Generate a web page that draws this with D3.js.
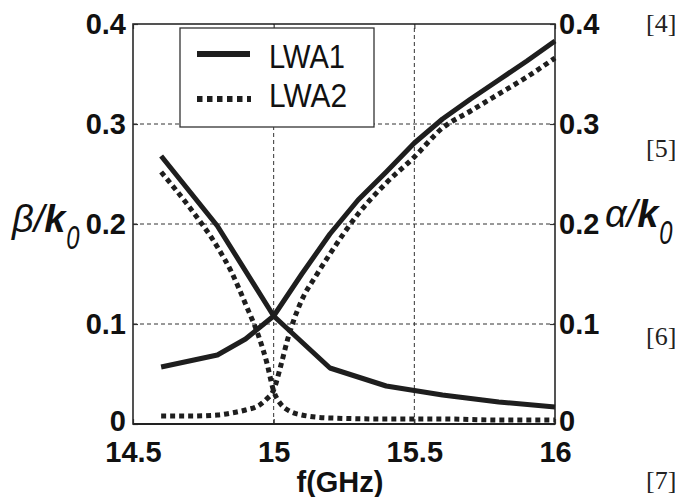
<!DOCTYPE html>
<html>
<head>
<meta charset="utf-8">
<script src="https://cdn.jsdelivr.net/npm/d3@7"></script>
<style>
  html, body { margin: 0; padding: 0; background: #fff; }
  svg { display: block; }
</style>
</head>
<body>
<svg id="chart" width="675" height="497"></svg>
<script>
// ---- data ----
const xTicks = [14.5, 15, 15.5, 16];
const xTickLabels = ["14.5", "15", "15.5", "16"];
const yTicks = [0, 0.1, 0.2, 0.3, 0.4];
const yTickLabels = ["0", "0.1", "0.2", "0.3", "0.4"];
const xGrid = [15, 15.5];
const yGrid = [0.1, 0.2, 0.3];

const seriesNames = ["LWA1", "LWA2"];

const freqBeta1 = [14.6, 14.8, 15.0, 15.2, 15.4, 15.6, 15.8, 16.0];
const beta1     = [0.268, 0.198, 0.108, 0.056, 0.038, 0.029, 0.022, 0.017];

const freqAlpha1 = [14.6, 14.8, 14.9, 15.0, 15.1, 15.2, 15.3, 15.4, 15.5, 15.6, 15.7, 15.8, 15.9, 16.0];
const alpha1     = [0.057, 0.069, 0.085, 0.108, 0.150, 0.190, 0.224, 0.252, 0.281, 0.305, 0.325, 0.344, 0.363, 0.383];

const freqBeta2 = [14.6, 14.7, 14.8, 14.85, 14.9, 14.95, 14.975, 15.0, 15.025, 15.05, 15.1, 15.2, 15.4, 15.6, 15.8, 16.0];
const beta2     = [0.252, 0.217, 0.177, 0.152, 0.120, 0.085, 0.062, 0.033, 0.020, 0.014, 0.009, 0.006, 0.005, 0.005, 0.004, 0.004];

const freqAlpha2 = [14.6, 14.7, 14.8, 14.85, 14.9, 14.95, 14.975, 15.0, 15.025, 15.05, 15.1, 15.15, 15.2, 15.3, 15.4, 15.5, 15.6, 15.7, 15.8, 15.9, 16.0];
const alpha2     = [0.008, 0.008, 0.009, 0.011, 0.014, 0.019, 0.025, 0.034, 0.058, 0.085, 0.124, 0.148, 0.170, 0.210, 0.241, 0.267, 0.296, 0.313, 0.330, 0.347, 0.366];

const refLabels = ["[4]", "[5]", "[6]", "[7]"];

// ---- layout ----
const svg = d3.select("#chart");
const L = 133, R = 555, T = 24, B = 424;
const x = d3.scaleLinear().domain([14.5, 16]).range([L, R]);
const y = d3.scaleLinear().domain([0, 0.4]).range([B, T]);
const ink = "#1e1e1e";
const sans = "'Liberation Sans', Arial, Helvetica, sans-serif";

// grid
svg.append("g").selectAll("line").data(yGrid).join("line")
  .attr("x1", L).attr("x2", R).attr("y1", d => y(d)).attr("y2", d => y(d))
  .attr("stroke", "#333").attr("stroke-width", 1).attr("stroke-dasharray", "4,3");
svg.append("g").selectAll("line").data(xGrid).join("line")
  .attr("y1", B).attr("y2", T).attr("x1", d => x(d)).attr("x2", d => x(d))
  .attr("stroke", "#333").attr("stroke-width", 1).attr("stroke-dasharray", "4,3");

// axes
function styleAxis(g) {
  g.select(".domain").remove();
  g.selectAll(".tick line").attr("stroke", "#333").attr("stroke-width", 1.2);
  g.selectAll(".tick text").attr("fill", "#111")
    .attr("font-family", sans).attr("font-weight", "bold").attr("font-size", 29);
}
const xAxis = d3.axisBottom(x).tickValues(xTicks)
  .tickFormat((d, i) => xTickLabels[i]).tickSizeInner(-5).tickSizeOuter(0).tickPadding(17);
svg.append("g").attr("transform", `translate(0,${B})`).call(xAxis).call(styleAxis);
const xAxisTop = d3.axisTop(x).tickValues(xTicks).tickFormat("").tickSizeInner(-5).tickSizeOuter(0);
svg.append("g").attr("transform", `translate(0,${T})`).call(xAxisTop).call(styleAxis);

const yAxisL = d3.axisLeft(y).tickValues(yTicks)
  .tickFormat((d, i) => yTickLabels[i]).tickSizeInner(-5).tickSizeOuter(0).tickPadding(7);
const gl = svg.append("g").attr("transform", `translate(${L},0)`).call(yAxisL).call(styleAxis);
const yAxisR = d3.axisRight(y).tickValues(yTicks)
  .tickFormat((d, i) => yTickLabels[i]).tickSizeInner(-5).tickSizeOuter(0).tickPadding(4);
const gr = svg.append("g").attr("transform", `translate(${R},0)`).call(yAxisR).call(styleAxis);
// the "0" labels sit a touch higher so they just touch the x labels
[gl, gr].forEach(g => g.selectAll(".tick text").filter(d => d === 0).attr("dy", "0.22em"));

// frame
svg.append("rect").attr("x", L).attr("y", T).attr("width", R - L).attr("height", B - T)
  .attr("fill", "none").attr("stroke", "#2a2a2a").attr("stroke-width", 1.6);
svg.append("line").attr("x1", L).attr("x2", R).attr("y1", B).attr("y2", B)
  .attr("stroke", "#222").attr("stroke-width", 2);

// curves
const solidLine = d3.line().x(d => x(d[0])).y(d => y(d[1])).curve(d3.curveLinear);
const dotLine = d3.line().x(d => x(d[0])).y(d => y(d[1])).curve(d3.curveMonotoneX);
const zip = (a, b) => a.map((v, i) => [v, b[i]]);

function drawDotted(pts) {
  svg.append("path").datum(pts).attr("d", dotLine)
    .attr("fill", "none").attr("stroke", ink).attr("stroke-width", 5)
    .attr("stroke-dasharray", "5,4");
}
function drawSolid(pts) {
  svg.append("path").datum(pts).attr("d", solidLine)
    .attr("fill", "none").attr("stroke", ink).attr("stroke-width", 5)
    .attr("stroke-linejoin", "round");
}
drawDotted(zip(freqBeta2, beta2));
drawDotted(zip(freqAlpha2, alpha2));
drawSolid(zip(freqBeta1, beta1));
drawSolid(zip(freqAlpha1, alpha1));

// legend
const lg = svg.append("g");
lg.append("rect").attr("x", 180).attr("y", 28).attr("width", 194).attr("height", 99)
  .attr("fill", "#fff").attr("stroke", "#333").attr("stroke-width", 1.3);
lg.append("line").attr("x1", 197).attr("x2", 250).attr("y1", 54).attr("y2", 54)
  .attr("stroke", ink).attr("stroke-width", 6);
lg.append("line").attr("x1", 197).attr("x2", 251).attr("y1", 99).attr("y2", 99)
  .attr("stroke", ink).attr("stroke-width", 6).attr("stroke-dasharray", "5.5,4.5");
lg.selectAll("text").data(seriesNames).join("text")
  .attr("x", 269).attr("y", (d, i) => i === 0 ? 68 : 107)
  .attr("font-family", sans).attr("font-size", 34).attr("fill", "#111")
  .attr("textLength", (d, i) => i === 0 ? 76 : 78).attr("lengthAdjust", "spacingAndGlyphs")
  .text(d => d);

// axis titles
svg.append("text").attr("x", 340).attr("y", 492).attr("text-anchor", "middle")
  .attr("font-family", sans).attr("font-weight", "bold").attr("font-size", 29).attr("fill", "#111")
  .text("f(GHz)");

function axisTitle(x0, base, greek) {
  const g = svg.append("g");
  const t = g.append("text").attr("x", x0).attr("y", base)
    .attr("font-family", sans).attr("font-size", 38).attr("fill", "#111").attr("font-style", "italic");
  t.append("tspan").text(greek + "/");
  t.append("tspan").attr("font-weight", "bold").text("k");
  const bb = t.node().getBBox();
  g.append("text")
    .attr("transform", `translate(${bb.x + bb.width - 1},${base + 17}) scale(0.72,1)`)
    .attr("font-family", sans).attr("font-size", 33).attr("font-style", "italic")
    .attr("fill", "#111").text("0");
}
axisTitle(12, 232, "β");
axisTitle(605, 227, "α");

// side reference labels
const refY = [32, 157, 345, 489];
svg.append("g").selectAll("text").data(refLabels).join("text")
  .attr("x", 646).attr("y", (d, i) => refY[i])
  .attr("font-family", "'Liberation Serif', 'Times New Roman', serif")
  .attr("font-size", 26).attr("fill", "#222").text(d => d);
</script>
</body>
</html>
